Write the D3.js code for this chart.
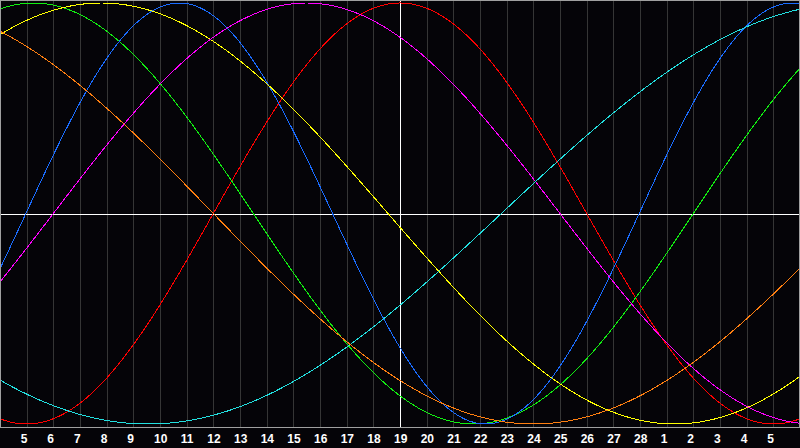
<!DOCTYPE html>
<html>
<head>
<meta charset="utf-8">
<script src="https://cdn.jsdelivr.net/npm/d3@7"></script>
<style>
  html, body { margin: 0; padding: 0; background: #050408; }
  svg { display: block; }
</style>
</head>
<body>
<div id="chart"></div>
<script>
// day labels under each grid line (day 19 is "today", centre of chart)
var dayLabels = ["5","6","7","8","9","10","11","12","13","14","15","16","17","18","19",
  "20","21","22","23","24","25","26","27","28","1","2","3","4","5"];

// cycles: length in days, chart day where each one peaks, line colour
var cycleNames = ["emotional", "intellectual", "physical", "aesthetic", "intuitive", "spiritual", "awareness"];
var cyclePeriods = [28, 33, 23, 43, 38, 53, 48];
var cyclePeaks = [15, 1.25, 6.72, 3.8, 11.5, 32.05, -4];
var cycleColors = ["#ff0000", "#11ee11", "#1a6cff", "#ffff00", "#ff00ff", "#22e0e0", "#ff7f10"];

var svgWidth = 800;
var svgHeight = 448;
var totalDays = 30;
var today = 15;

var svg = d3.select("#chart")
  .append("svg")
  .attr("width", svgWidth)
  .attr("height", svgHeight);

var xScale = d3.scaleLinear().domain([0, totalDays]).range([0, 800]);
var yScale = d3.scaleLinear().domain([-1, 1]).range([424, 3]);

svg.append("rect")
  .attr("width", svgWidth)
  .attr("height", svgHeight)
  .attr("fill", "#050408");

// vertical day grid
svg.append("g").selectAll("line")
  .data(d3.range(1, totalDays))
  .enter()
  .append("line")
  .attr("x1", d => Math.round(xScale(d)) + 0.5)
  .attr("x2", d => Math.round(xScale(d)) + 0.5)
  .attr("y1", 0)
  .attr("y2", 428)
  .attr("stroke", "#353535")
  .attr("stroke-width", 1);

// crosshair through today and the zero line
svg.append("line")
  .attr("x1", xScale(today) + 0.5).attr("x2", xScale(today) + 0.5)
  .attr("y1", 0).attr("y2", 428)
  .attr("stroke", "#ffffff");
svg.append("line")
  .attr("x1", 0).attr("x2", 800)
  .attr("y1", Math.round(yScale(0)) + 0.5).attr("y2", Math.round(yScale(0)) + 0.5)
  .attr("stroke", "#ffffff");

// curves
var steps = d3.range(0, totalDays + 0.001, 0.1);
var line = d3.line()
  .x(d => xScale(d[0]))
  .y(d => yScale(d[1]));

cyclePeriods.forEach(function(period, i) {
  var pts = steps.map(t => [t, Math.cos(2 * Math.PI * (t - cyclePeaks[i]) / period)]);
  svg.append("path")
    .datum(pts)
    .attr("class", cycleNames[i])
    .attr("d", line)
    .attr("fill", "none")
    .attr("stroke", cycleColors[i])
    .attr("stroke-width", 1)
    .attr("shape-rendering", "crispEdges");
});

// frame
svg.append("rect")
  .attr("x", 0.5).attr("y", 0.5)
  .attr("width", 799).attr("height", 427)
  .attr("fill", "none")
  .attr("stroke", "#a0a0a0");

// day labels
svg.append("g").selectAll("text")
  .data(dayLabels)
  .enter()
  .append("text")
  .attr("x", (d, i) => xScale(i + 1) - 6)
  .attr("y", 443)
  .attr("fill", "#ffffff")
  .style("font-family", "'Liberation Sans', Arial, sans-serif")
  .style("font-weight", "bold")
  .style("font-size", "12px")
  .text(d => d);
</script>
</body>
</html>
